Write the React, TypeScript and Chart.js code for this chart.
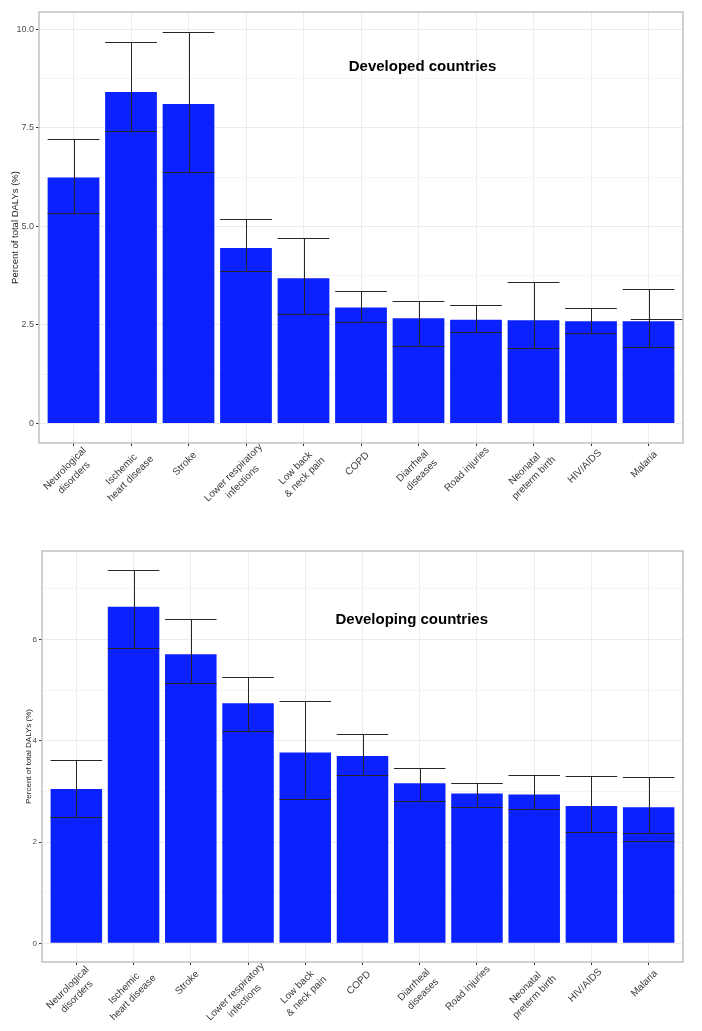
import React, { useEffect, useRef } from "react";
import { Chart, registerables } from "chart.js";

Chart.register(...registerables);

// ---------- data ----------
const categories: string[][] = [
  ["Neurological", "disorders"],
  ["Ischemic", "heart disease"],
  ["Stroke"],
  ["Lower respiratory", "infections"],
  ["Low back", "& neck pain"],
  ["COPD"],
  ["Diarrheal", "diseases"],
  ["Road injuries"],
  ["Neonatal", "preterm birth"],
  ["HIV/AIDS"],
  ["Malaria"],
];

const developedValues = [6.24, 8.41, 8.1, 4.45, 3.68, 2.94, 2.67, 2.63, 2.62, 2.59, 2.59];
const developedLower = [5.33, 7.41, 6.37, 3.87, 2.78, 2.56, 1.97, 2.32, 1.91, 2.29, 1.94];
const developedUpper = [7.21, 9.67, 9.94, 5.18, 4.71, 3.35, 3.11, 3.0, 3.6, 2.92, 3.4];
const developedExtra = [{ from: 10.69, to: 11.6, value: 2.66 }];
const developedTicks = [0, 2.5, 5, 7.5, 10];
const developedTickLabels = ["0", "2.5", "5.0", "7.5", "10.0"];

const developingValues = [3.05, 6.65, 5.71, 4.74, 3.77, 3.7, 3.16, 2.96, 2.94, 2.71, 2.69];
const developingLower = [2.5, 5.83, 5.14, 4.2, 2.85, 3.33, 2.82, 2.69, 2.65, 2.19, 2.17];
const developingUpper = [3.62, 7.38, 6.4, 5.27, 4.78, 4.14, 3.47, 3.17, 3.33, 3.31, 3.29];
const developingExtra = [{ from: 10.55, to: 11.45, value: 2.02 }];
const developingTicks = [0, 2, 4, 6];
const developingTickLabels = ["0", "2", "4", "6"];

const yAxisTitle = "Percent of total DALYs (%)";

// ---------- layout / style ----------
const FONT = "'Liberation Sans', Arial, sans-serif";
const W = 702;
const X_LABEL_SIZE = 10;
const X_LABEL_LINE = 12.9;
const X_LABEL_HJUST = 0.76;
const X_LABEL_U = -8.4;
const X_LABEL_V = 13.5;

interface PanelCfg {
  title: string;
  titlePos: [number, number];
  values: number[];
  lower: number[];
  upper: number[];
  extra: { from: number; to: number; value: number }[];
  ticks: number[];
  tickLabels: string[];
  canvasTop: number;
  canvasHeight: number;
  area: { left: number; right: number; top: number; bottom: number };
  yTickSize: number;
  yTitleSize: number;
  yTitlePad: number;
}

const panels: PanelCfg[] = [
  {
    title: "Developed countries",
    titlePos: [7.07, 9.04],
    values: developedValues,
    lower: developedLower,
    upper: developedUpper,
    extra: developedExtra,
    ticks: developedTicks,
    tickLabels: developedTickLabels,
    canvasTop: 0,
    canvasHeight: 530,
    area: { left: 39, right: 683, top: 12, bottom: 443 },
    yTickSize: 9,
    yTitleSize: 9.5,
    yTitlePad: 10,
  },
  {
    title: "Developing countries",
    titlePos: [6.86, 6.38],
    values: developingValues,
    lower: developingLower,
    upper: developingUpper,
    extra: developingExtra,
    ticks: developingTicks,
    tickLabels: developingTickLabels,
    canvasTop: 530,
    canvasHeight: 501,
    area: { left: 42, right: 683, top: 21, bottom: 432 },
    yTickSize: 8,
    yTitleSize: 8,
    yTitlePad: 24,
  },
];

function Panel({ cfg }: { cfg: PanelCfg }) {
  const ref = useRef<HTMLCanvasElement | null>(null);

  useEffect(() => {
    if (!ref.current) return;
    const H = cfg.canvasHeight;
    const dataMax = Math.max(...cfg.upper);
    const yMin = -0.05 * dataMax;
    const yMax = dataMax * 1.05;
    const step = cfg.ticks[1] - cfg.ticks[0];
    const minor: number[] = [];
    for (let v = cfg.ticks[0] + step / 2; v < yMax; v += step) minor.push(v);
    const allTicks = [...cfg.ticks, ...minor].sort((a, b) => a - b);
    const isMajor = (v: number) => cfg.ticks.some((t) => Math.abs(t - v) < 1e-6);

    const overlay = {
      id: "overlay",
      afterDatasetsDraw(chart: any) {
        const { ctx, chartArea } = chart;
        const xs = chart.scales.x;
        const ys = chart.scales.y;
        const meta = chart.getDatasetMeta(0);
        ctx.save();
        ctx.strokeStyle = "#262626";
        ctx.lineWidth = 1;
        const r = (v: number) => Math.round(v) + 0.5;
        cfg.lower.forEach((lo, i) => {
          const bar = meta.data[i] as any;
          const cx = r(bar.x);
          const hw = bar.width / 2;
          const yl = r(ys.getPixelForValue(lo));
          const yu = r(ys.getPixelForValue(cfg.upper[i]));
          ctx.beginPath();
          ctx.moveTo(cx, yl);
          ctx.lineTo(cx, yu);
          ctx.moveTo(bar.x - hw, yu);
          ctx.lineTo(bar.x + hw, yu);
          ctx.moveTo(bar.x - hw, yl);
          ctx.lineTo(bar.x + hw, yl);
          ctx.stroke();
        });
        cfg.extra.forEach((seg) => {
          const yy = r(ys.getPixelForValue(seg.value));
          ctx.beginPath();
          ctx.moveTo(xs.getPixelForValue(seg.from), yy);
          ctx.lineTo(xs.getPixelForValue(seg.to), yy);
          ctx.stroke();
        });
        // annotation title
        ctx.fillStyle = "#000";
        ctx.font = `bold 15px ${FONT}`;
        ctx.textAlign = "center";
        ctx.textBaseline = "middle";
        ctx.fillText(
          cfg.title,
          xs.getPixelForValue(cfg.titlePos[0]),
          ys.getPixelForValue(cfg.titlePos[1])
        );
        // panel border
        ctx.strokeStyle = "#c2c2c2";
        ctx.lineWidth = 1.5;
        ctx.strokeRect(
          chartArea.left,
          chartArea.top,
          chartArea.right - chartArea.left,
          chartArea.bottom - chartArea.top
        );
        // rotated, centred multi-line category labels (ggplot style)
        ctx.fillStyle = "#3a3a3a";
        ctx.font = `${X_LABEL_SIZE}px ${FONT}`;
        ctx.textAlign = "center";
        ctx.textBaseline = "alphabetic";
        categories.forEach((lines, i) => {
          const tx = xs.getPixelForValue(i + 1);
          const ty = chartArea.bottom + 2;
          const widths = lines.map((l) => ctx.measureText(l).width);
          const B = Math.max(...widths);
          const uc = X_LABEL_U - X_LABEL_HJUST * B + B / 2;
          ctx.save();
          ctx.translate(tx, ty);
          ctx.rotate(-Math.PI / 4);
          lines.forEach((l, j) => {
            ctx.fillText(l, uc, X_LABEL_V + j * X_LABEL_LINE);
          });
          ctx.restore();
        });
        ctx.restore();
      },
    };

    const chart = new Chart(ref.current, {
      type: "bar",
      data: {
        datasets: [
          {
            data: cfg.values.map((v, i) => ({ x: i + 1, y: v })),
            backgroundColor: "#0b22ff",
            borderWidth: 0,
            barPercentage: 0.9,
            categoryPercentage: 1,
          },
        ],
      },
      options: {
        animation: false,
        responsive: false,
        maintainAspectRatio: false,
        layout: {
          padding: { left: 0, right: W - cfg.area.right, top: cfg.area.top, bottom: 0 },
        },
        plugins: {
          legend: { display: false },
          tooltip: { enabled: false },
          title: { display: false },
        },
        scales: {
          x: {
            type: "linear",
            offset: false,
            min: 0.4,
            max: categories.length + 0.6,
            bounds: "data",
            afterBuildTicks: (s: any) => {
              s.ticks = categories.map((_, i) => ({ value: i + 1 }));
            },
            afterFit: (s: any) => {
              s.height = H - cfg.area.bottom;
              s.paddingLeft = 0;
              s.paddingRight = 0;
            },
            ticks: {
              display: false,
              autoSkip: false,
            },
            grid: {
              offset: false,
              color: "#ececec",
              lineWidth: 1,
              tickColor: "#333333",
              tickLength: 3,
            },
            border: { display: false },
          },
          y: {
            type: "linear",
            min: yMin,
            max: yMax,
            bounds: "data",
            afterBuildTicks: (s: any) => {
              s.ticks = allTicks.map((v) => ({ value: v }));
            },
            afterFit: (s: any) => {
              s.width = cfg.area.left;
              s.paddingTop = 0;
              s.paddingBottom = 0;
            },
            ticks: {
              padding: 2,
              color: "#4d4d4d",
              font: { family: FONT, size: cfg.yTickSize },
              callback: (v: any) => {
                const idx = cfg.ticks.findIndex((t) => Math.abs(t - Number(v)) < 1e-6);
                return idx >= 0 ? cfg.tickLabels[idx] : "";
              },
            },
            title: {
              display: true,
              text: yAxisTitle,
              color: "#1a1a1a",
              font: { family: FONT, size: cfg.yTitleSize },
              padding: { top: cfg.yTitlePad, bottom: 0 },
            },
            grid: {
              color: (c: any) => (isMajor(c.tick?.value) ? "#ebebeb" : "#f5f5f5"),
              lineWidth: 1,
              tickColor: (c: any) => (isMajor(c.tick?.value) ? "#333333" : "rgba(0,0,0,0)"),
              tickLength: 3,
            },
            border: { display: false },
          },
        },
      } as any,
      plugins: [overlay],
    });
    return () => chart.destroy();
  }, [cfg]);

  return (
    <canvas
      ref={ref}
      width={W}
      height={cfg.canvasHeight}
      style={{
        position: "absolute",
        left: 0,
        top: cfg.canvasTop,
        width: W,
        height: cfg.canvasHeight,
        display: "block",
      }}
    />
  );
}

export default function App() {
  return (
    <div
      style={{
        position: "absolute",
        left: 0,
        top: 0,
        width: W,
        height: 1031,
        background: "#ffffff",
        overflow: "hidden",
      }}
    >
      {panels.map((p) => (
        <Panel key={p.title} cfg={p} />
      ))}
    </div>
  );
}
